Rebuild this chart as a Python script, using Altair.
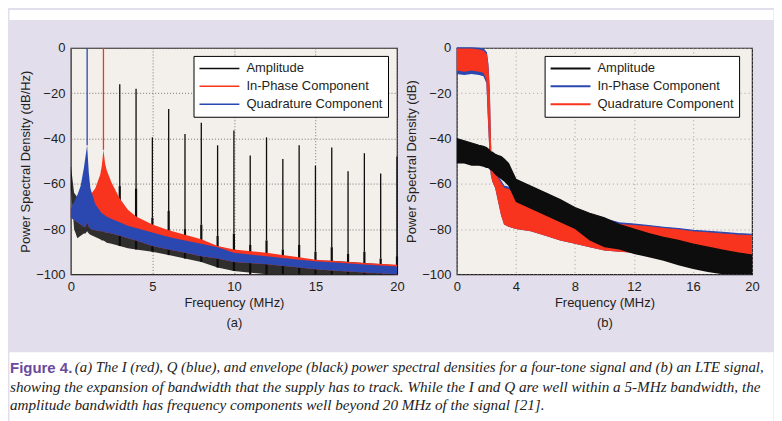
import altair as alt
import pandas as pd

# ---------------- data: panel (a) four-tone signal ----------------
series_names = ["Amplitude", "In-Phase Component", "Quadrature Component"]

fa = [0, 0.2, 0.4, 0.6, 0.8, 0.9, 1.0, 1.1, 1.2, 1.5, 1.8, 1.9, 2.0, 2.1, 2.2, 2.5,
      3, 3.5, 4, 5, 6, 7, 8, 9, 10, 12, 14, 15, 16, 18, 20]
a_amp_top = [-52, -64, -66, -69, -72, -73, -74, -75, -76, -77, -78, -78, -79, -79, -79, -80,
             -81, -82, -83, -85, -86, -87, -88, -89, -90, -92, -93, -94, -94, -95, -96]
a_amp_bot = [-62, -80, -84, -83, -82, -82, -81, -82, -82.5, -83.5, -84.5, -85, -85, -85.5, -86, -86.5,
             -87.5, -88.5, -89, -90, -91.5, -93, -94.5, -97, -98.5, -100, -100, -100, -100, -100, -100]
a_i_top = [-70, -69.5, -69, -68, -67, -66.5, -66, -65.5, -65, -62, -56, -52, -45, -51, -54, -59.5,
           -66.5, -71.5, -74.5, -78, -80.5, -82.5, -84.5, -87.5, -89, -90.5, -92.5, -93.5, -94, -95, -95.8]
a_q_top = [-71, -68, -65, -61, -53, -48, -43, -55, -62, -69, -72, -73, -73.5, -74, -74.5, -75.5,
           -77, -78.5, -79.5, -81.5, -83.5, -85, -86.5, -88, -90.5, -92, -93.5, -94.2, -94.7, -95.6, -96.5]
a_q_bot = [-75, -76, -77, -78, -79, -79, -77, -79, -80, -80.5, -81, -81, -81, -81.5, -81.5, -82,
           -83, -84, -85, -87.5, -89, -90.5, -92, -93, -94.5, -95.5, -97, -97.8, -98.3, -99.2, -100]

harm_f = [3, 4, 5, 6, 7, 8, 9, 10, 11, 12, 13, 14, 15, 16, 17, 18, 19, 20]
harm_peak = [-16, -18, -39.5, -27, -38, -33, -43, -36.5, -47.5, -39.5, -49, -43, -52, -44, -54.5, -46.5, -55.5, -48]
harm_skirt = [-61, -62, -75, -72, -80, -78, -83, -82, -87, -85, -89, -87, -90, -88, -91, -90, -93, -92]
harm_base = [-87.5, -89, -90, -91.5, -93, -94.5, -97, -98.5, -100, -100, -100, -100, -100, -100, -100, -100, -100, -100]

q_tone_f = [1.0]
q_tone_peak = [0]
q_tone_base = [-43]
i_tone_f = [2.0]
i_tone_peak = [0]
i_tone_base = [-45]

# ---------------- data: panel (b) LTE signal ----------------
fb = [0, 0.5, 1, 1.5, 1.8, 2.0, 2.1, 2.2, 2.25, 2.3, 2.4, 2.6, 2.8, 3.0, 3.2, 3.5, 4, 5, 6, 7, 8,
      9, 10, 11, 12, 13, 14, 15, 16, 17, 18, 19, 20]
b_q_top = [-0.5, -0.5, -0.5, -1, -1.5, -3, -8, -20, -35, -48, -53, -55, -58, -60, -62, -62.5, -65, -68, -70, -72, -73.5,
           -75, -76.5, -78, -78.5, -79, -79.8, -80.3, -81.2, -81.7, -82.2, -82.7, -83]
b_q_bot = [-10, -10.5, -10, -10.5, -11, -14, -30, -45, -52, -56, -59, -62, -68, -74, -78, -79, -80, -81, -83, -85, -86.5,
           -88, -89.5, -90, -90.5, -91, -92, -93, -94, -95, -96, -96, -96]
b_i_top = [0, 0, 0, -0.2, -0.5, -2, -7, -19, -34, -47, -52, -54, -57, -59, -61, -61.5, -64, -67, -69, -71, -72.5,
           -74, -75.5, -77.2, -77.8, -78.5, -79.2, -79.8, -80.6, -81, -81.5, -82, -82.3]
b_i_bot = [-11.5, -12, -11.5, -12, -12.5, -15.5, -31, -45, -52, -56, -59, -62, -68, -74, -78, -79, -80, -81, -83, -85, -86.5,
           -88, -89.5, -90, -90.5, -91, -92, -93, -94, -95, -96, -96, -96]
b_amp_top = [-40, -41, -42, -43, -43.5, -44, -44.5, -45, -45.5, -46, -46, -47, -47.5, -48, -49, -51, -58, -61, -64, -67, -70.5,
             -73, -75, -78, -80, -82, -83.7, -85, -86.6, -88, -89.3, -90.5, -91.5]
b_amp_bot = [-51, -51, -52, -52, -52.5, -53, -53, -53.5, -54, -54, -54.5, -56, -57, -58, -59, -61, -68, -71, -74, -77, -80,
             -85, -88, -89, -91, -92.5, -94, -96, -97.6, -99, -100, -100, -100]

caption_head = "Figure 4."
caption_lines = [
    "(a) The I (red), Q (blue), and envelope (black) power spectral densities for a four-tone signal and (b) an LTE signal,",
    "showing the expansion of bandwidth that the supply has to track. While the I and Q are well within a 5-MHz bandwidth, the",
    "amplitude bandwidth has frequency components well beyond 20 MHz of the signal [21].",
]

# ---------------- styling ----------------
FONT = "Liberation Sans"
TXT = "#231f20"
LAV = "#e3deec"
PLOTBG = "#f3efeb"
BLACK = "#0d0d0d"
RED = "#f8341f"
BLUE = "#2a48b0"
W_A, W_B, H = 327, 296, 227

ysc = alt.Scale(domain=[-100, 0], nice=False)
xsc = alt.Scale(domain=[0, 20], nice=False)


def legend(lx, sw):
    return alt.Legend(title=None, orient="none", legendX=lx, legendY=8, fillColor="white",
                      strokeColor="black", padding=5, symbolType="stroke", symbolSize=1600,
                      clipHeight=15, rowPadding=3, labelOffset=6, symbolStrokeWidth=sw,
                      labelFont=FONT, labelFontSize=13, labelColor=TXT)


def series_color(scale, lx, sw):
    return alt.Color("series:N", scale=scale, legend=legend(lx, sw))


# ---------------- panel (a) ----------------
dfa = pd.DataFrame({"f": fa, "amp_top": a_amp_top, "amp_bot": a_amp_bot,
                    "i_top": a_i_top, "q_top": a_q_top, "q_bot": a_q_bot})
dfh = pd.DataFrame({"f": harm_f, "peak": harm_peak, "skirt": harm_skirt, "base": harm_base})
dfq = pd.DataFrame({"f": q_tone_f, "peak": q_tone_peak, "base": q_tone_base})
dfi = pd.DataFrame({"f": i_tone_f, "peak": i_tone_peak, "base": i_tone_base})

grid_a = dict(grid=True, gridColor="#6f6863", gridDash=[1, 2], gridWidth=0.9)
xa = alt.X("f:Q", scale=xsc, axis=alt.Axis(values=[0, 5, 10, 15, 20],
                                             title=["Frequency (MHz)", "(a)"], **grid_a))
ya_axis = alt.Axis(values=[0, -20, -40, -60, -80, -100], title="Power Spectral Density (dB/Hz)", **grid_a)
col_a = alt.Scale(domain=series_names, range=[BLACK, RED, BLUE])

a_floor = alt.Chart(dfa).mark_area(color=BLACK, opacity=0.85).encode(
    x=xa, y=alt.Y("amp_top:Q", scale=ysc, axis=ya_axis), y2="amp_bot:Q")
a_skirt = alt.Chart(dfh).mark_rule(color=BLACK, strokeWidth=2.2).encode(
    x="f:Q", y="skirt:Q", y2="base:Q")
a_spike = alt.Chart(dfh).transform_calculate(series=f"'{series_names[0]}'").mark_rule(strokeWidth=1.3).encode(
    x="f:Q", y="peak:Q", y2="skirt:Q", color=series_color(col_a, 123, 1.5))
a_i = alt.Chart(dfa).mark_area(color=RED).encode(x="f:Q", y="i_top:Q", y2="q_bot:Q")
a_q = alt.Chart(dfa).mark_area(color=BLUE).encode(x="f:Q", y="q_top:Q", y2="q_bot:Q")
a_itone = alt.Chart(dfi).transform_calculate(series=f"'{series_names[1]}'").mark_rule(strokeWidth=1.3).encode(
    x="f:Q", y="peak:Q", y2="base:Q", color=series_color(col_a, 123, 1.5))
a_qtone = alt.Chart(dfq).transform_calculate(series=f"'{series_names[2]}'").mark_rule(strokeWidth=1.3).encode(
    x="f:Q", y="peak:Q", y2="base:Q", color=series_color(col_a, 123, 1.5))

panel_a = alt.layer(a_floor, a_skirt, a_spike, a_i, a_q, a_itone, a_qtone).properties(
    width=W_A, height=H, view=alt.ViewBackground(fill=PLOTBG, stroke="#222222", strokeWidth=1.2))

# ---------------- panel (b) ----------------
dfb = pd.DataFrame({"f": fb, "amp_top": b_amp_top, "amp_bot": b_amp_bot,
                    "i_top": b_i_top, "i_bot": b_i_bot, "q_top": b_q_top, "q_bot": b_q_bot})
grid_b = dict(grid=True, gridColor="#9d9792", gridDash=[1, 3], gridWidth=0.9)
xb = alt.X("f:Q", scale=xsc, axis=alt.Axis(values=list(range(0, 21, 2)),
                                             title=["Frequency (MHz)", "(b)"], **grid_b))
yb_axis = alt.Axis(values=list(range(0, -101, -10)), title="Power Spectral Density (dB)", **grid_b)
col_b = alt.Scale(domain=series_names, range=[BLACK, BLUE, RED])

b_i = alt.Chart(dfb).mark_area(color=BLUE).encode(
    x=xb, y=alt.Y("i_top:Q", scale=ysc, axis=yb_axis), y2="i_bot:Q")
b_i_edge = alt.Chart(dfb).transform_calculate(series=f"'{series_names[1]}'").mark_line(strokeWidth=1.2).encode(
    x="f:Q", y="i_top:Q", color=series_color(col_b, 88, 2))
b_q = alt.Chart(dfb).mark_area(color=RED).encode(x="f:Q", y="q_top:Q", y2="q_bot:Q")
b_q_edge = alt.Chart(dfb).transform_calculate(series=f"'{series_names[2]}'").mark_line(strokeWidth=1.2).encode(
    x="f:Q", y="q_top:Q", color=series_color(col_b, 88, 2))
b_amp = alt.Chart(dfb).mark_area(color=BLACK).encode(x="f:Q", y="amp_top:Q", y2="amp_bot:Q")
b_amp_edge = alt.Chart(dfb).transform_calculate(series=f"'{series_names[0]}'").mark_line(strokeWidth=1.2).encode(
    x="f:Q", y="amp_top:Q", color=series_color(col_b, 88, 2))

panel_b = alt.layer(b_i, b_i_edge, b_q, b_q_edge, b_amp, b_amp_edge).properties(
    width=W_B, height=H, view=alt.ViewBackground(fill=PLOTBG, stroke="#222222", strokeWidth=1.2))

# ---------------- spacers and caption ----------------
one = pd.DataFrame({"v": [0]})
spacer = alt.Chart(one).mark_point(opacity=0, size=1).encode(x=alt.value(1), y=alt.value(5)).properties(
    width=2, height=H, view=alt.ViewBackground(stroke="transparent"))
strip = alt.Chart(one).mark_point(opacity=0, size=1).encode(x=alt.value(5), y=alt.value(5)).properties(
    width=766, height=10, view=alt.ViewBackground(fill="white", stroke="transparent"))

cap_style = dict(align="left", baseline="middle", font="Liberation Serif", fontStyle="italic",
                 color="#222222")
cap_head = alt.Chart(one).mark_text(text=caption_head, align="left", baseline="middle", font=FONT,
                                    fontWeight="bold", fontSize=15, color="#6a4a9c").encode(
    x=alt.value(1), y=alt.value(16.5))
cap1 = alt.Chart(one).mark_text(text=caption_lines[0], fontSize=14.85, **cap_style).encode(
    x=alt.value(66), y=alt.value(16.5))
cap2 = alt.Chart(one).mark_text(text=caption_lines[1], fontSize=15.2, **cap_style).encode(
    x=alt.value(1), y=alt.value(35.5))
cap3 = alt.Chart(one).mark_text(text=caption_lines[2], fontSize=15.2, **cap_style).encode(
    x=alt.value(1), y=alt.value(53.5))
caption = alt.layer(cap_head, cap1, cap2, cap3).properties(
    width=766, height=74, view=alt.ViewBackground(fill="white", stroke="transparent"))

panels = alt.hconcat(spacer, panel_a, panel_b, spacing=60, bounds="flush").resolve_scale(
    x="independent", y="independent", color="independent").resolve_legend(color="independent")

chart = alt.vconcat(strip, panels, caption, spacing=20.5).properties(
    padding=0, background=LAV
).configure_view(stroke="transparent").configure_axis(
    labelFont=FONT, labelFontSize=13, labelColor=TXT, titleFont=FONT, titleFontSize=13,
    titleFontWeight="normal", titleColor=TXT, domain=False, ticks=False, labelFlush=False,
    labelPadding=6, titlePadding=3, titleLineHeight=20
)

chart.save("out.html", embed_options={"renderer": "svg", "actions": False})
